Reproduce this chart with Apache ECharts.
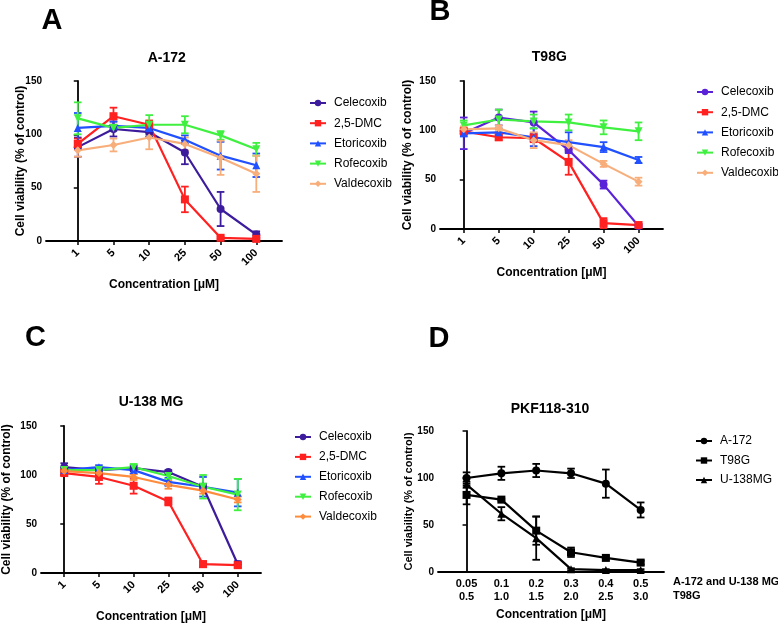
<!DOCTYPE html>
<html>
<head>
<meta charset="utf-8">
<script src="https://cdn.jsdelivr.net/npm/echarts@6/dist/echarts.min.js"></script>
<style>
  html, body { margin: 0; padding: 0; background: #fff; }
  #main { width: 778px; height: 624px; }
</style>
</head>
<body>
<div id="main"></div>
<script>
// concentration categories for panels A-C
var xCats = ['1', '5', '10', '25', '50', '100'];
var drugs = ['Celecoxib', '2,5-DMC', 'Etoricoxib', 'Rofecoxib', 'Valdecoxib'];

// A-172 (rows follow drugs)
var a172Mean = [
    [88, 105, 102, 83, 30, 6],
    [91, 117, 109, 39, 3, 2],
    [106, 108, 106, 95, 80, 71],
    [115, 106, 109, 109, 99, 86],
    [85, 90, 97, 91, 78, 63]
];
var a172Err = [
    [9, 7, 4, 11, 16, 3],
    [5, 8, 4, 12, 1, 1],
    [14, 4, 3, 4, 13, 11],
    [15, 3, 9, 8, 4, 6],
    [6, 6, 11, 6, 16, 17]
];

// T98G
var t98gMean = [
    [97, 113, 108, 80, 45, 3],
    [99, 93, 92, 68, 6, 4],
    [97, 98, 93, 88, 83, 70],
    [105, 111, 109, 108, 103, 99],
    [101, 102, 90, 85, 66, 48]
];
var t98gErr = [
    [16, 8, 11, 3, 4, 2],
    [3, 3, 4, 13, 5, 1],
    [3, 4, 9, 10, 5, 3],
    [5, 10, 7, 8, 7, 9],
    [3, 3, 8, 5, 3, 4]
];

// U-138 MG
var u138Mean = [
    [108, 105, 107, 103, 88, 9],
    [102, 98, 89, 73, 9, 8],
    [105, 108, 105, 93, 88, 82],
    [105, 105, 108, 99, 88, 80],
    [104, 102, 98, 90, 84, 75]
];
var u138Err = [
    [4, 3, 3, 2, 3, 3],
    [2, 7, 8, 4, 3, 3],
    [3, 2, 4, 4, 10, 14],
    [2, 2, 3, 3, 12, 16],
    [2, 2, 3, 4, 3, 3]
];

// PKF118-310
var pkfTop = ['0.05', '0.1', '0.2', '0.3', '0.4', '0.5'];
var pkfBottom = ['0.5', '1.0', '1.5', '2.0', '2.5', '3.0'];
var cellLines = ['A-172', 'T98G', 'U-138MG'];
var pkfMean = [
    [100, 105, 108, 105, 94, 66],
    [82, 77, 44, 21, 15, 10],
    [93, 62, 36, 3, 2, 2]
];
var pkfErr = [
    [6, 7, 7, 5, 15, 8],
    [10, 1, 15, 5, 2, 2],
    [3, 7, 23, 1, 1, 1]
];

var FONT = '"Liberation Sans", Arial, sans-serif';
var drugSymbols = ['circle', 'rect', 'triangle', 'triangle', 'diamond'];
var drugRotate = [0, 0, 0, 180, 0];
var lineSymbols = ['circle', 'rect', 'triangle'];

var panels = [
    {
        key: 'A-172', mean: a172Mean, err: a172Err, names: drugs, symbols: drugSymbols,
        colors: ['#3C1C9C', '#FF2020', '#2050FF', '#40F040', '#F8AE7A'],
        grid: { left: 46, top: 81, width: 236, height: 160 }, xMin: -0.89, xMax: 5.72,
        yNameGap: 19,
        legend: { left: 304, top: 91, itemGap: 6.2 }
    },
    {
        key: 'T98G', mean: t98gMean, err: t98gErr, names: drugs, symbols: drugSymbols,
        colors: ['#5A22D8', '#FF2020', '#2050FF', '#40F040', '#F8AE7A'],
        grid: { left: 440, top: 81, width: 223, height: 148 }, xMin: -0.68, xMax: 5.7,
        yNameGap: 26,
        legend: { left: 691, top: 80, itemGap: 6.2 }
    },
    {
        key: 'U-138 MG', mean: u138Mean, err: u138Err, names: drugs, symbols: drugSymbols,
        colors: ['#3C1C9C', '#FF2020', '#2050FF', '#40F040', '#FF8C3C'],
        grid: { left: 39, top: 426, width: 222, height: 148 }, xMin: -0.67, xMax: 5.67,
        yNameGap: 28,
        legend: { left: 289, top: 425, itemGap: 5.9 }
    },
    {
        key: 'PKF118-310', mean: pkfMean, err: pkfErr, names: cellLines, symbols: lineSymbols,
        colors: ['#000', '#000', '#000'],
        grid: { left: 438, top: 431, width: 226, height: 141 }, xMin: -0.82, xMax: 5.67,
        yNameGap: 24,
        legend: { left: 690, top: 429, itemGap: 5.5 }
    }
];

var grids = [], xAxes = [], yAxes = [], legends = [], series = [];

function errorBarItem(params, api) {
    var x = api.value(0), y = api.value(1), e = api.value(2);
    var hi = api.coord([x, y + e]);
    var lo = api.coord([x, y - e]);
    var w = 3.8;
    var style = { stroke: api.visual('color'), lineWidth: 1.8 };
    return {
        type: 'group',
        children: [
            { type: 'line', shape: { x1: hi[0], y1: hi[1], x2: lo[0], y2: lo[1] }, style: style },
            { type: 'line', shape: { x1: hi[0] - w, y1: hi[1], x2: hi[0] + w, y2: hi[1] }, style: style },
            { type: 'line', shape: { x1: lo[0] - w, y1: lo[1], x2: lo[0] + w, y2: lo[1] }, style: style }
        ]
    };
}

panels.forEach(function (p, pi) {
    var isD = pi === 3;
    grids.push(p.grid);
    xAxes.push({
        gridIndex: pi,
        type: 'value',
        min: p.xMin,
        max: p.xMax,
        splitLine: { show: false },
        axisLine: { show: true, onZero: false, lineStyle: { color: '#000', width: 1.8 } },
        axisTick: { show: !isD, length: 4, customValues: [0, 1, 2, 3, 4, 5], lineStyle: { color: '#000', width: 1.5 } },
        axisLabel: {
            customValues: [0, 1, 2, 3, 4, 5],
            rotate: isD ? 0 : 45,
            margin: isD ? 5 : 10,
            color: '#000',
            fontFamily: FONT,
            fontWeight: 'bold',
            fontSize: 11,
            lineHeight: 13,
            formatter: function (v) {
                var i = Math.round(v);
                return isD ? pkfTop[i] + '\n' + pkfBottom[i] : xCats[i];
            }
        },
        name: 'Concentration [μM]',
        nameLocation: 'middle',
        nameMoveOverlap: false,
        nameGap: isD ? 37 : 38,
        nameTextStyle: { color: '#000', fontFamily: FONT, fontWeight: 'bold', fontSize: 12 }
    });
    yAxes.push({
        gridIndex: pi,
        type: 'value',
        min: 0,
        max: 150,
        interval: 50,
        splitLine: { show: false },
        axisLine: { show: true, lineStyle: { color: '#000', width: 1.8 } },
        axisTick: { show: true, length: 4, lineStyle: { color: '#000', width: 1.5 } },
        axisLabel: { color: '#000', fontFamily: FONT, fontWeight: 'bold', fontSize: 10, margin: 4 },
        name: 'Cell viability (% of control)',
        nameLocation: 'middle',
        nameMoveOverlap: false,
        nameGap: p.yNameGap,
        nameTextStyle: { color: '#000', fontFamily: FONT, fontWeight: 'bold', fontSize: isD ? 11 : 12 }
    });

    var legendNames = [];
    p.names.forEach(function (n, si) {
        var sName = p.key + '|' + n;
        legendNames.push(sName);
        var color = p.colors[si];
        series.push({
            name: sName,
            type: 'line',
            xAxisIndex: pi,
            yAxisIndex: pi,
            data: p.mean[si].map(function (v, i) { return [i, v]; }),
            symbol: p.symbols[si],
            symbolRotate: isD ? 0 : drugRotate[si],
            symbolSize: 8,
            showSymbol: true,
            lineStyle: { color: color, width: 2.2 },
            itemStyle: { color: color },
            z: 3
        });
        series.push({
            name: sName + '|err',
            type: 'custom',
            xAxisIndex: pi,
            yAxisIndex: pi,
            renderItem: errorBarItem,
            itemStyle: { color: color },
            data: p.mean[si].map(function (v, i) { return [i, v, p.err[si][i]]; }),
            encode: { x: 0, y: 1 },
            z: 2
        });
    });

    legends.push({
        data: legendNames,
        orient: 'vertical',
        left: p.legend.left,
        top: p.legend.top,
        itemGap: p.legend.itemGap,
        itemWidth: 16,
        itemHeight: 8,
        selectedMode: false,
        formatter: function (n) { return n.split('|')[1]; },
        textStyle: { color: '#000', fontFamily: FONT, fontSize: 12, lineHeight: 14, padding: [0, 0, 0, 3] }
    });
});

function label(text, x, y, size, weight) {
    return {
        type: 'text', x: x, y: y,
        style: {
            text: text, fill: '#000',
            font: (weight || 'bold') + ' ' + size + 'px ' + FONT,
            textAlign: 'center', textVerticalAlign: 'middle'
        }
    };
}

var graphics = [
    label('A', 52, 21, 29),
    label('B', 440, 12, 29),
    label('C', 35.5, 338, 29),
    label('D', 439, 339, 29),
    label('A-172', 166.7, 58, 14),
    label('T98G', 549.3, 57.3, 14),
    label('U-138 MG', 151, 401.7, 14),
    label('PKF118-310', 550, 409, 14),
    {
        type: 'text', x: 673, y: 582.3,
        style: { text: 'A-172 and U-138 MG', fill: '#000', font: 'bold 11px ' + FONT, textAlign: 'left', textVerticalAlign: 'middle' }
    },
    {
        type: 'text', x: 673, y: 595.5,
        style: { text: 'T98G', fill: '#000', font: 'bold 11px ' + FONT, textAlign: 'left', textVerticalAlign: 'middle' }
    }
];

var myChart = echarts.init(document.getElementById('main'));
myChart.setOption({
    animation: false,
    backgroundColor: '#fff',
    textStyle: { fontFamily: FONT },
    grid: grids,
    xAxis: xAxes,
    yAxis: yAxes,
    legend: legends,
    graphic: graphics,
    series: series
});
</script>
</body>
</html>
